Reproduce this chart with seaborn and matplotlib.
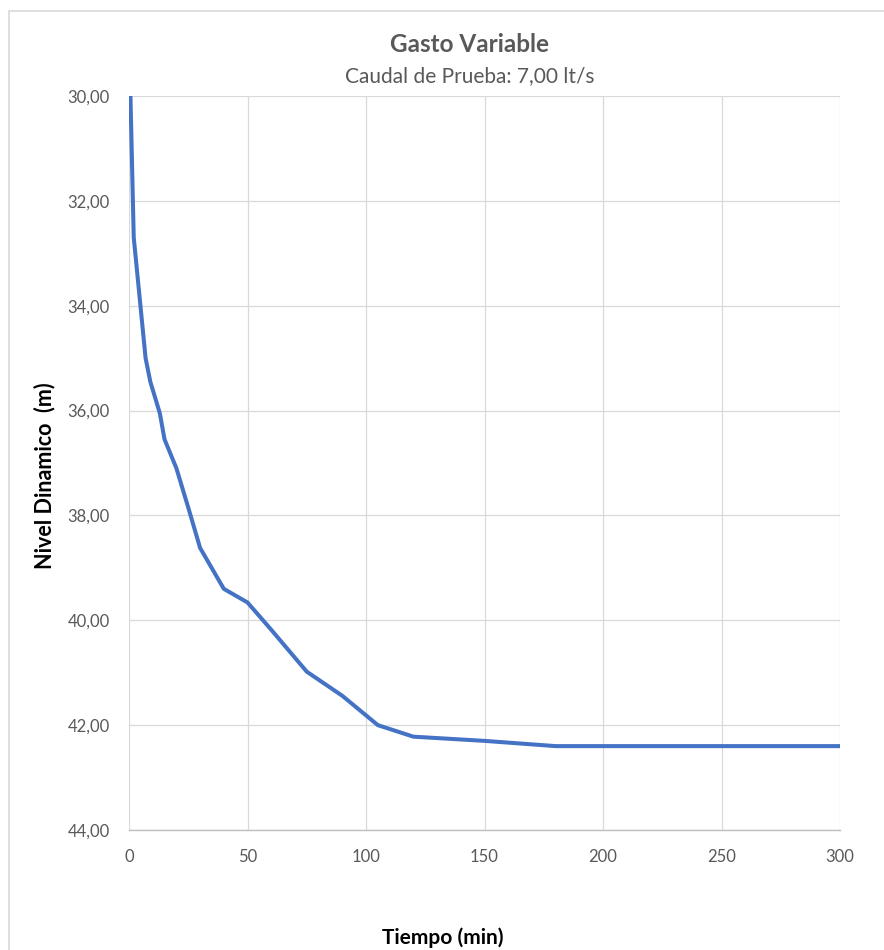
import matplotlib
matplotlib.use("Agg")
import matplotlib.pyplot as plt
import seaborn as sns
import pandas as pd
from matplotlib.patches import Rectangle
from matplotlib.ticker import FuncFormatter

# Data
tiempo = [0, 2, 7, 9, 13, 15, 20, 25, 30, 40, 50, 60, 75, 90, 105, 120, 150, 180, 210, 240, 270, 300]
nivel = [28.8, 32.7, 35.0, 35.45, 36.05, 36.55, 37.1, 37.85, 38.62, 39.4, 39.66, 40.18, 40.98, 41.44,
         42.0, 42.22, 42.3, 42.4, 42.4, 42.4, 42.4, 42.4]
x_ticks = [0, 50, 100, 150, 200, 250, 300]
y_ticks = [30, 32, 34, 36, 38, 40, 42, 44]

titulo = "Gasto Variable"
subtitulo = "Caudal de Prueba: 7,00 lt/s"
x_label = "Tiempo (min)"
y_label = "Nivel Dinamico  (m)"

sns.set_theme(style="white")
plt.rcParams["font.family"] = ["Lato", "DejaVu Sans"]

W, H = 884, 950
fig = plt.figure(figsize=(W / 100, H / 100), dpi=100)
ax = fig.add_axes([129 / W, 1 - 830 / H, (840 - 129) / W, (830 - 96) / H])

df = pd.DataFrame({"Tiempo": tiempo, "Nivel": nivel})
sns.lineplot(data=df, x="Tiempo", y="Nivel", ax=ax, color="#4472C4", linewidth=2.9,
             sort=False, estimator=None, zorder=3)

ax.set_xlim(0, 300)
ax.set_ylim(44, 30)
ax.set_xticks(x_ticks)
ax.set_yticks(y_ticks)
ax.yaxis.set_major_formatter(FuncFormatter(lambda v, p: f"{v:.2f}".replace(".", ",")))
ax.xaxis.set_major_formatter(FuncFormatter(lambda v, p: f"{int(v)}"))

ax.grid(True, color="#D9D9D9", linewidth=0.9, zorder=0)
for s in ["top", "right", "left"]:
    ax.spines[s].set_visible(False)
ax.spines["bottom"].set_color("#BFBFBF")
ax.spines["bottom"].set_linewidth(1.0)
ax.tick_params(axis="both", length=0, labelsize=12, labelcolor="#595959")
ax.tick_params(axis="x", pad=14)
ax.tick_params(axis="y", pad=14)

ax.set_xlabel("")
ax.set_ylabel("")
fig.text(443 / W, 1 - 938 / H, x_label, ha="center", va="center", fontsize=15,
         fontweight="bold", color="black")
fig.text(45 / W, 1 - 476 / H, y_label, ha="center", va="center", rotation=90,
         fontsize=15.5, fontweight="bold", color="black")

fig.text(469 / W, 1 - 45 / H, titulo, ha="center", va="center", fontsize=17.5,
         fontweight="bold", color="#595959")
fig.text(470 / W, 1 - 76 / H, subtitulo, ha="center", va="center", fontsize=15,
         color="#595959")

# chart area border (cropped on right and bottom)
fig.patches.append(Rectangle((8.5 / W, -0.1), 1.2, 1 - 11 / H + 0.1, transform=fig.transFigure,
                             fill=False, edgecolor="#D9D9D9", linewidth=1.2))

fig.savefig("out.png", dpi=100)
